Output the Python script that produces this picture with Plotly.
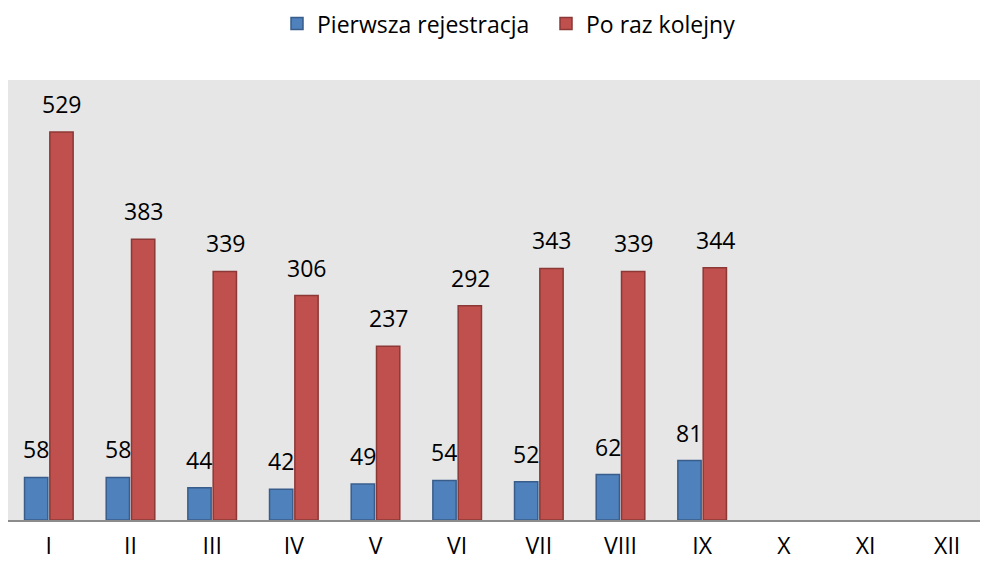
import plotly.graph_objects as go

months = ["I", "II", "III", "IV", "V", "VI", "VII", "VIII", "IX", "X", "XI", "XII"]
first_reg = [58, 58, 44, 42, 49, 54, 52, 62, 81, None, None, None]
again_reg = [529, 383, 339, 306, 237, 292, 343, 339, 344, None, None, None]

FONT = "Open Sans"
FS = 23
fig = go.Figure()
fig.add_trace(go.Bar(name="Pierwsza rejestracja", x=months, y=first_reg,
                     marker=dict(color="#4F81BD", line=dict(color="#385D8A", width=1.5))))
fig.add_trace(go.Bar(name="Po raz kolejny", x=months, y=again_reg,
                     marker=dict(color="#C0504D", line=dict(color="#8C3836", width=1.5))))

ann = []
for m, a, b in zip(months, first_reg, again_reg):
    if a is not None:
        ann.append(dict(x=m, y=a, text=str(a), showarrow=False, xshift=-13, yshift=10,
                        yanchor="bottom", font=dict(size=FS, color="#000", family=FONT)))
    if b is not None:
        ann.append(dict(x=m, y=b, text=str(b), showarrow=False, xshift=13, yshift=10,
                        yanchor="bottom", font=dict(size=FS, color="#000", family=FONT)))

fig.update_layout(
    width=980, height=557,
    margin=dict(l=0, r=0, t=72, b=45, autoexpand=False),
    paper_bgcolor="white", plot_bgcolor="#E6E6E6",
    barmode="group", bargap=0.38, bargroupgap=0.08,
    font=dict(family=FONT, size=FS, color="#000"),
    legend=dict(orientation="h", xref="container", yref="container",
                x=0.2745, xanchor="left", y=0.972, yanchor="middle",
                font=dict(size=FS), itemwidth=30, entrywidth=224, traceorder="normal"),
    annotations=ann,
    xaxis=dict(showline=True, linecolor="#8C8C8C", linewidth=2, ticks="", showgrid=False,
               ticklabelstandoff=4, tickfont=dict(size=FS)),
    yaxis=dict(range=[0, 600], visible=False, showgrid=False),
)
fig.write_html("out.html")
